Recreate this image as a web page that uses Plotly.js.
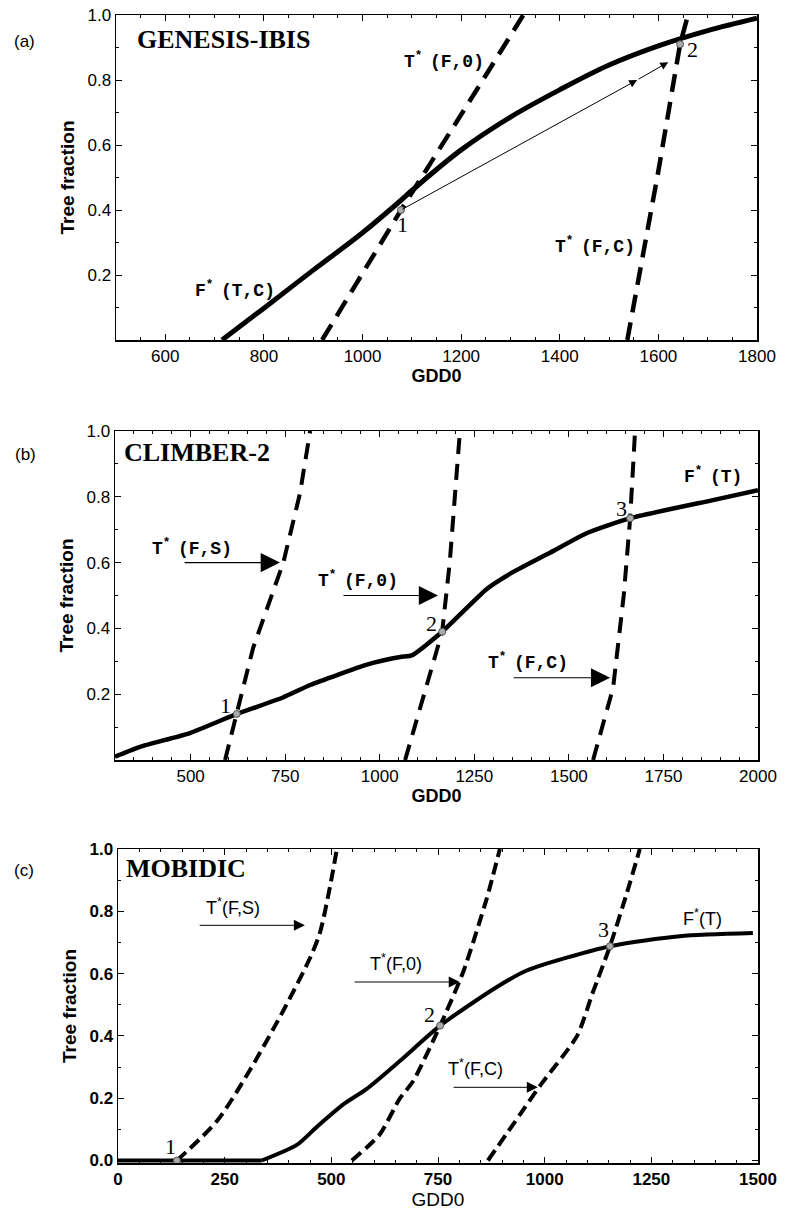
<!DOCTYPE html>
<html><head><meta charset="utf-8">
<script src="https://cdn.plot.ly/plotly-3.0.1.min.js"></script>
<style>body{margin:0;background:#fff}#chart{width:785px;height:1214px}</style>
</head><body><div id="chart"></div>
<script>
// ---------- Panel (a) GENESIS-IBIS ----------
const a_FTC_x = [715, 800, 900, 1000, 1078, 1100, 1200, 1300, 1400, 1500, 1600, 1700, 1800];
const a_FTC_y = [0, 0.098, 0.215, 0.33, 0.43, 0.46, 0.585, 0.686, 0.77, 0.846, 0.905, 0.952, 0.99];
const a_TF0_x = [918, 1078, 1240, 1326];
const a_TF0_y = [0, 0.40, 0.79, 1.0];
const a_TFC_x = [1537, 1600, 1644, 1660];
const a_TFC_y = [0, 0.52, 0.91, 1.0];
const a_pts_x = [1078, 1644];
const a_pts_y = [0.40, 0.91];
const a_xticks = [600, 800, 1000, 1200, 1400, 1600, 1800];
const a_yticks = [0.2, 0.4, 0.6, 0.8, 1.0];

// ---------- Panel (b) CLIMBER-2 ----------
const b_FT_x = [300, 366, 498, 622, 744, 816, 966, 1054, 1085, 1165, 1283, 1352, 1450, 1548, 1662, 1881, 2000];
const b_FT_y = [0.01, 0.04, 0.082, 0.14, 0.19, 0.228, 0.29, 0.313, 0.318, 0.39, 0.52, 0.571, 0.63, 0.69, 0.735, 0.79, 0.82];
const b_TFS_x = [591, 622, 665, 745, 789, 816];
const b_TFS_y = [0, 0.14, 0.34, 0.6, 0.81, 1.0];
const b_TF0_x = [1067, 1165, 1185, 1212];
const b_TF0_y = [0, 0.39, 0.6, 1.0];
const b_TFC_x = [1564, 1617, 1645, 1662, 1675];
const b_TFC_y = [0, 0.22, 0.5, 0.735, 1.0];
const b_pts_x = [622, 1165, 1662];
const b_pts_y = [0.14, 0.39, 0.735];
const b_xticks = [500, 750, 1000, 1250, 1500, 1750, 2000];
const b_yticks = [0.2, 0.4, 0.6, 0.8, 1.0];

// ---------- Panel (c) MOBIDIC ----------
const c_FT_flat_x = [0, 337];
const c_FT_flat_y = [0, 0];
const c_FT_x = [337, 419, 466, 528, 583, 661, 755, 888, 958, 1153, 1317, 1488];
const c_FT_y = [0, 0.05, 0.108, 0.18, 0.23, 0.32, 0.433, 0.557, 0.61, 0.688, 0.72, 0.73];
const c_TFS_x = [138, 232, 309, 387, 450, 473, 497, 513];
const c_TFS_y = [0, 0.127, 0.29, 0.48, 0.65, 0.73, 0.88, 1.0];
const c_TF0_x = [548, 613, 661, 692, 755, 809, 864, 895];
const c_TF0_y = [0, 0.083, 0.2, 0.255, 0.433, 0.605, 0.84, 1.0];
const c_TFC_x = [867, 942, 989, 1076, 1113, 1153, 1193, 1223];
const c_TFC_y = [0, 0.147, 0.24, 0.40, 0.54, 0.688, 0.86, 1.0];
const c_pts_x = [138, 755, 1153];
const c_pts_y = [0, 0.433, 0.688];
const c_xticks = [0, 250, 500, 750, 1000, 1250, 1500];
const c_yticks = [0, 0.2, 0.4, 0.6, 0.8, 1.0];

const SANS = 'Liberation Sans, Arial, sans-serif';
const SERIF = 'Liberation Serif, Times New Roman, serif';
const MONO = 'Liberation Mono, Courier New, monospace';

function solid(x, y, xa, ya, w, sm) {
  return {x: x, y: y, xaxis: xa, yaxis: ya, type: 'scatter', mode: 'lines',
    line: {color: '#000', width: w, shape: sm ? 'spline' : 'linear', smoothing: sm || 0},
    showlegend: false, hoverinfo: 'skip'};
}
function dashed(x, y, xa, ya, w, dash, sm) {
  return {x: x, y: y, xaxis: xa, yaxis: ya, type: 'scatter', mode: 'lines',
    line: {color: '#000', width: w, dash: dash, shape: sm ? 'spline' : 'linear', smoothing: sm || 0},
    showlegend: false, hoverinfo: 'skip'};
}
function pts(x, y, xa, ya) {
  return {x: x, y: y, xaxis: xa, yaxis: ya, type: 'scatter', mode: 'markers', cliponaxis: false,
    marker: {size: 7, color: '#aaa', line: {color: '#555', width: 1}}, showlegend: false, hoverinfo: 'skip'};
}

const data = [
  solid(a_FTC_x, a_FTC_y, 'x', 'y', 5, 1),
  dashed(a_TF0_x, a_TF0_y, 'x', 'y', 4.5, '18px,10px', 0),
  dashed(a_TFC_x, a_TFC_y, 'x', 'y', 4.5, '18px,10px', 0),
  pts(a_pts_x, a_pts_y, 'x', 'y'),

  solid(b_FT_x, b_FT_y, 'x2', 'y2', 4.5, 0.5),
  dashed(b_TFS_x, b_TFS_y, 'x2', 'y2', 4, '16px,10px', 0),
  dashed(b_TF0_x, b_TF0_y, 'x2', 'y2', 4, '16px,10px', 0),
  dashed(b_TFC_x, b_TFC_y, 'x2', 'y2', 4, '16px,10px', 0),
  pts(b_pts_x, b_pts_y, 'x2', 'y2'),

  solid(c_FT_flat_x, c_FT_flat_y, 'x3', 'y3', 4, 0),
  solid(c_FT_x, c_FT_y, 'x3', 'y3', 4, 0.7),
  dashed(c_TFS_x, c_TFS_y, 'x3', 'y3', 4, '12px,6px', 0.8),
  dashed(c_TF0_x, c_TF0_y, 'x3', 'y3', 4, '12px,6px', 0.6),
  dashed(c_TFC_x, c_TFC_y, 'x3', 'y3', 4, '12px,6px', 0.6),
  pts(c_pts_x, c_pts_y, 'x3', 'y3')
];

function xax(domain, range, ticks, anchor, minorDt, tfont, titleFont) {
  return {domain: domain, range: range, anchor: anchor, tickvals: ticks, ticktext: ticks.map(String),
    showgrid: false, zeroline: false, showline: true, linecolor: '#000', linewidth: 1.5, mirror: 'allticks',
    ticks: 'inside', ticklen: 6, tickwidth: 1, tickcolor: '#000',
    minor: {dtick: minorDt, ticks: 'inside', ticklen: 3, tickwidth: 1, tickcolor: '#000', showgrid: false},
    tickfont: tfont, title: {text: 'GDD0', font: titleFont, standoff: 3}};
}
function yax(domain, range, ticks, anchor, tfont) {
  return {domain: domain, range: range, anchor: anchor, tickvals: ticks, ticktext: ticks.map(v => v.toFixed(1)),
    showgrid: false, zeroline: false, showline: true, linecolor: '#000', linewidth: 1.5, mirror: 'allticks',
    ticks: 'inside', ticklen: 6, tickwidth: 1, tickcolor: '#000',
    minor: {dtick: 0.1, ticks: 'inside', ticklen: 3, tickwidth: 1, tickcolor: '#000', showgrid: false},
    tickfont: tfont, title: {text: 'Tree fraction', font: {family: SANS, size: 19, color: '#000', weight: 'bold'}, standoff: 8}};
}

const tfAB = {family: SANS, size: 17, color: '#000'};
const tfC = {family: SANS, size: 17, color: '#000', weight: 'bold'};

const W = 785, H = 1214;
const layout = {
  width: W, height: H, paper_bgcolor: '#fff', plot_bgcolor: '#fff',
  margin: {l: 0, r: 0, t: 0, b: 0}, showlegend: false,
  xaxis: xax([116/W, 757/W], [500, 1800], a_xticks, 'y', 50, tfAB, {family: SANS, size: 18, color: '#000', weight: 'bold'}),
  yaxis: yax([1-340/H, 1-15/H], [0, 1], a_yticks, 'x', tfAB),
  xaxis2: xax([115/W, 758/W], [300, 2000], b_xticks, 'y2', 50, tfAB, {family: SANS, size: 18, color: '#000', weight: 'bold'}),
  yaxis2: yax([1-760/H, 1-431/H], [0, 1], b_yticks, 'x2', tfAB),
  xaxis3: xax([118/W, 758/W], [0, 1500], c_xticks, 'y3', 50, tfC, {family: SANS, size: 19, color: '#000'}),
  yaxis3: yax([1-1163/H, 1-849/H], [-0.008, 1], c_yticks, 'x3', tfC),
  annotations: []
};

const A = layout.annotations;
function paperText(text, px, py, font) {
  A.push({xref: 'paper', yref: 'paper', x: px / W, y: 1 - py / H, text: text, showarrow: false,
    xanchor: 'center', yanchor: 'middle', font: font});
}
function dataText(text, xr, yr, x, y, font) {
  A.push({xref: xr, yref: yr, x: x, y: y, text: text, showarrow: false, xanchor: 'center', yanchor: 'middle', font: font});
}
function arrow(xr, yr, x0, y0, x1, y1, size, width) {
  A.push({xref: xr, yref: yr, axref: xr, ayref: yr, x: x1, y: y1, ax: x0, ay: y0, text: '', showarrow: true,
    arrowhead: 2, arrowsize: size, arrowwidth: width, arrowcolor: '#000', standoff: 0, startstandoff: 0});
}

const panelFont = {family: SANS, size: 17, color: '#000'};
paperText('(a)', 24, 42, panelFont);
paperText('(b)', 25, 455, panelFont);
paperText('(c)', 24, 870, panelFont);

const modelFont = {family: SERIF, size: 26, color: '#000', weight: 'bold'};
paperText('GENESIS-IBIS', 223, 40, modelFont);
paperText('CLIMBER-2', 197, 453, modelFont);
paperText('MOBIDIC', 186, 868, modelFont);

const monoFont = {family: MONO, size: 18, color: '#000', weight: 'bold'};
const sansLab = {family: SANS, size: 18, color: '#000'};
const numFont = {family: SERIF, size: 22, color: '#000'};

// (a)
dataText('T<sup>* </sup>(F,0)', 'x', 'y', 1165, 0.86, monoFont);
dataText('T<sup>* </sup>(F,C)', 'x', 'y', 1471, 0.29, monoFont);
dataText('F<sup>* </sup>(T,C)', 'x', 'y', 741, 0.155, monoFont);
dataText('1', 'x', 'y', 1082, 0.355, numFont);
dataText('2', 'x', 'y', 1670, 0.895, numFont);
arrow('x', 'y', 1078, 0.40, 1557, 0.80, 1.6, 1);
arrow('x', 'y', 1557, 0.80, 1620, 0.855, 1.6, 1);

// (b)
dataText('T<sup>* </sup>(F,S)', 'x2', 'y2', 503, 0.645, monoFont);
dataText('T<sup>* </sup>(F,0)', 'x2', 'y2', 942, 0.55, monoFont);
dataText('T<sup>* </sup>(F,C)', 'x2', 'y2', 1392, 0.30, monoFont);
dataText('F<sup>* </sup>(T)', 'x2', 'y2', 1881, 0.865, monoFont);
arrow('x2', 'y2', 480, 0.60, 736, 0.60, 3.2, 1.2);
arrow('x2', 'y2', 900, 0.50, 1154, 0.50, 3.2, 1.2);
arrow('x2', 'y2', 1350, 0.25, 1609, 0.25, 3.2, 1.2);
dataText('1', 'x2', 'y2', 591, 0.165, numFont);
dataText('2', 'x2', 'y2', 1136, 0.415, numFont);
dataText('3', 'x2', 'y2', 1640, 0.765, numFont);

// (c)
dataText('T<sup>*</sup>(F,S)', 'x3', 'y3', 270, 0.815, sansLab);
dataText('T<sup>*</sup>(F,0)', 'x3', 'y3', 652, 0.637, sansLab);
dataText('T<sup>*</sup>(F,C)', 'x3', 'y3', 837, 0.30, sansLab);
dataText('F<sup>*</sup>(T)', 'x3', 'y3', 1371, 0.78, sansLab);
arrow('x3', 'y3', 188, 0.755, 438, 0.755, 2.2, 1);
arrow('x3', 'y3', 551, 0.573, 801, 0.573, 2.2, 1);
arrow('x3', 'y3', 783, 0.235, 984, 0.235, 2.2, 1);
dataText('1', 'x3', 'y3', 122, 0.045, numFont);
dataText('2', 'x3', 'y3', 731, 0.47, numFont);
dataText('3', 'x3', 'y3', 1137, 0.74, numFont);

Plotly.newPlot('chart', data, layout, {staticPlot: true, displayModeBar: false});
</script>
</body></html>
